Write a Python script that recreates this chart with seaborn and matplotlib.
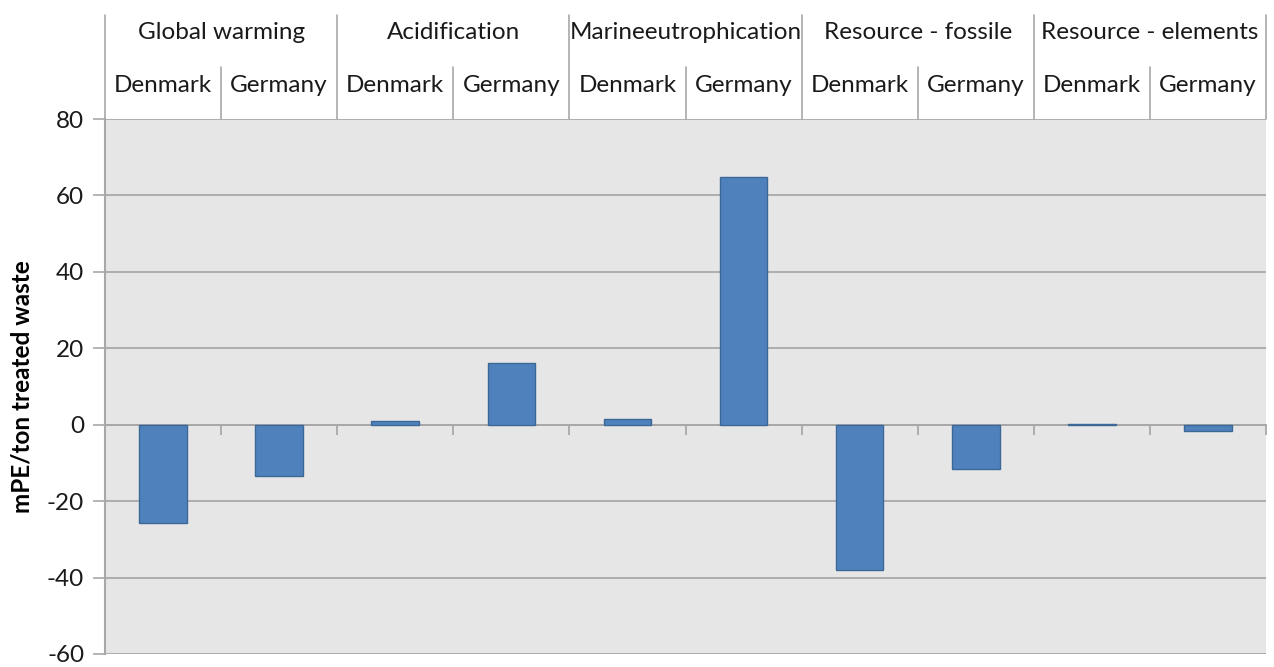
import matplotlib
matplotlib.use("Agg")
import matplotlib.pyplot as plt
import matplotlib.transforms as mtransforms
from matplotlib.ticker import FixedLocator
import seaborn as sns
import pandas as pd

# ---- data ----
impacts = ["Global warming", "Acidification", "Marineeutrophication",
           "Resource - fossile", "Resource - elements"]
countries = ["Denmark", "Germany"]
denmark_values = [-25.6, 1.0, 1.4, -38.0, 0.3]
germany_values = [-13.5, 16.1, 64.8, -11.5, -1.7]
y_ticks = [-60, -40, -20, 0, 20, 40, 60, 80]
y_label = "mPE/ton treated waste"

rows = []
for i, imp in enumerate(impacts):
    rows.append({"key": f"{imp}|Denmark", "impact": imp, "country": "Denmark", "value": denmark_values[i]})
    rows.append({"key": f"{imp}|Germany", "impact": imp, "country": "Germany", "value": germany_values[i]})
df = pd.DataFrame(rows)

sns.set_theme(style="white")
plt.rcParams["font.family"] = ["Lato", "DejaVu Sans"]

W, H = 1274, 667
fig = plt.figure(figsize=(W / 100, H / 100), dpi=100)
ax = fig.add_axes([105 / W, (H - 654) / H, (1266 - 105) / W, (654 - 119) / H])
ax.set_facecolor("#e6e6e6")

sns.barplot(data=df, x="key", y="value", order=list(df["key"]), ax=ax,
            color="#4f81bd", saturation=1, width=0.41,
            edgecolor="#3c6898", linewidth=1.0, zorder=3)

n = len(df)
ax.set_xlim(-0.5, n - 0.5)
ax.set_ylim(y_ticks[0], y_ticks[-1])
ax.set_yticks(y_ticks)
ax.set_yticklabels([str(v) for v in y_ticks], fontsize=17.5, color="#1a1a1a")
ax.yaxis.grid(True, color="#a8a8a8", linewidth=1.3, zorder=0)
ax.set_axisbelow(True)
ax.tick_params(axis="y", which="major", direction="out", length=9, width=1.2,
               color="#a8a8a8", pad=6, left=True)

# x axis at zero with small tick marks at category boundaries
ax.spines["bottom"].set_position(("data", 0))
ax.spines["bottom"].set_color("#a8a8a8")
ax.spines["bottom"].set_linewidth(1.3)
ax.set_xticks([])
ax.xaxis.set_minor_locator(FixedLocator([i - 0.5 for i in range(n + 1)]))
ax.tick_params(axis="x", which="minor", direction="out", length=7, width=1.3,
               color="#a8a8a8", bottom=True, labelbottom=False)
ax.set_xlabel("")
for s in ["top", "right"]:
    ax.spines[s].set_visible(False)
ax.spines["left"].set_color("#a8a8a8")
ax.spines["left"].set_linewidth(1.5)

ax.set_ylabel(y_label, fontsize=17.5, fontweight="bold", color="#000000", labelpad=10)

# ---- header rows ----
trans = mtransforms.blended_transform_factory(ax.transData, ax.transAxes)
px = 1.0 / (654 - 119)
y_top = (654 - 15) * px
y_mid = (654 - 67) * px
y_row1 = (654 - 33) * px
y_row2 = (654 - 85) * px
line_kw = dict(color="#a8a8a8", linewidth=1.2, transform=trans, clip_on=False)
for g in range(len(impacts) + 1):
    xb = g * 2 - 0.5
    ax.plot([xb, xb], [1.0, y_top], **line_kw)
    if g < len(impacts):
        ax.plot([xb + 1, xb + 1], [1.0, y_mid], **line_kw)
for g, imp in enumerate(impacts):
    ax.text(g * 2 + 0.5, y_row1, imp, transform=trans, ha="center", va="center",
            fontsize=17.5, color="#1a1a1a", clip_on=False)
    for c, cn in enumerate(countries):
        ax.text(g * 2 + c, y_row2, cn, transform=trans, ha="center", va="center",
                fontsize=17.5, color="#1a1a1a", clip_on=False)

fig.savefig("out.png", dpi=100, facecolor="white")
